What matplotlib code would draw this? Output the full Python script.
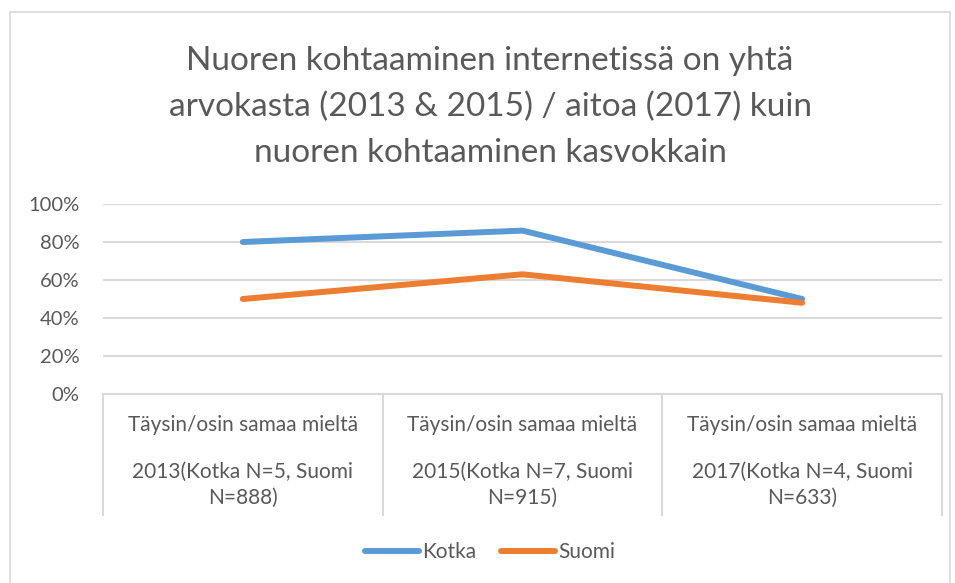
import matplotlib
matplotlib.use("Agg")
import matplotlib.pyplot as plt
from matplotlib.patches import Rectangle
from matplotlib.ticker import PercentFormatter

plt.rcParams['font.family'] = ['Lato', 'DejaVu Sans']

# data
categories_top = ['Täysin/osin samaa mieltä'] * 3
categories_bottom = ['2013(Kotka N=5, Suomi\nN=888)',
                     '2015(Kotka N=7, Suomi\nN=915)',
                     '2017(Kotka N=4, Suomi\nN=633)']
kotka = [0.80, 0.86, 0.50]
suomi = [0.50, 0.63, 0.48]

gray = '#595959'
grid = '#d9d9d9'

fig = plt.figure(figsize=(9.55, 5.83), dpi=100)
ax = fig.add_axes([103/955, 189/583, 839/955, 190/583])

x = range(len(kotka))
ax.plot(x, kotka, color='#5B9BD5', lw=4.3, solid_capstyle='round', label='Kotka')
ax.plot(x, suomi, color='#ED7D31', lw=4.3, solid_capstyle='round', label='Suomi')

ax.set_xlim(-0.5, 2.5)
ax.set_ylim(0, 1)
ax.set_yticks([0, 0.2, 0.4, 0.6, 0.8, 1.0])
ax.yaxis.set_major_formatter(PercentFormatter(1.0, decimals=0))
ax.tick_params(axis='y', length=0, pad=17, labelsize=14.5, labelcolor=gray)
ax.set_xticks([])
ax.grid(axis='y', color=grid, lw=1.5)
ax.set_axisbelow(True)
for s in ['top', 'right', 'left']:
    ax.spines[s].set_visible(False)
ax.spines['bottom'].set_color(grid)
ax.spines['bottom'].set_linewidth(1.5)

# category boxes below the axis
tr = ax.get_xaxis_transform()
for b in [-0.5, 0.5, 1.5, 2.5]:
    ax.plot([b, b], [0, -121/190], color=grid, lw=1.5, transform=tr, clip_on=False)
for i in x:
    ax.text(i, -31/190, categories_top[i], transform=tr, ha='center', va='center',
            fontsize=15, color=gray)
    ax.text(i, -91/190, categories_bottom[i], transform=tr, ha='center', va='center',
            fontsize=15, color=gray, linespacing=1.4)

fig.text(490/955, 1 - 107/583,
         'Nuoren kohtaaminen internetissä on yhtä\n'
         'arvokasta (2013 & 2015) / aitoa (2017) kuin\n'
         'nuoren kohtaaminen kasvokkain',
         ha='center', va='center', fontsize=24, color=gray,
         linespacing=1.65)

fig.legend(loc='center', bbox_to_anchor=(490/955, 31/583), ncol=2, frameon=False,
           fontsize=15, labelcolor=gray, handlelength=2.6, handletextpad=0.15,
           columnspacing=1.2)

fig.patches.append(Rectangle((10/955, -0.01), 940/955, 1 - 12/583 + 0.01,
                             transform=fig.transFigure, fill=False,
                             edgecolor=grid, lw=1.2))

fig.savefig('out.png', dpi=100)
